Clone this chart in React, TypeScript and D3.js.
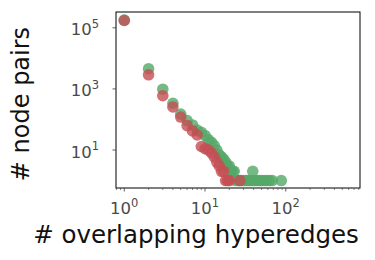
import React from "react";
import * as d3 from "d3";

const greenX = [1, 2, 3, 4, 5, 6, 7, 8, 9, 10, 11, 12, 13, 14, 15, 16, 17, 18, 19, 20, 21, 22, 23, 24, 26, 28, 30, 32, 34, 36, 38, 39, 41, 44, 47, 50, 54, 58, 63, 68, 88];
const greenY = [180000, 4600, 980, 340, 150, 92, 66, 45, 38, 30, 22, 18, 14, 10, 7, 6, 5, 4, 3, 3, 2, 2, 2, 1, 1, 1, 1, 1, 1, 1, 1, 2, 1, 1, 1, 1, 1, 1, 1, 1, 1];
const redX = [1, 2, 3, 4, 5, 6, 7, 8, 9, 10, 11, 12, 13, 14, 15, 16, 17, 18, 19, 20, 27];
const redY = [174000, 2900, 600, 257, 120, 63, 42, 31, 13, 11, 10, 8, 6, 4, 3, 2, 2, 1, 1, 1, 1];

const xMajor = [1, 10, 100];
const yMajor = [100000, 1000, 10];
const xLabel = "# overlapping hyperedges";
const yLabel = "# node pairs";

const W = 375, H = 260;
const L = 116, R = 360, T = 12, B = 188;

export default function App() {
  const x = d3.scaleLog().domain([0.79, 830]).range([L, R]);
  const y = d3.scaleLog().domain([0.57, 330000]).range([B, T]);
  const minor: number[] = [];
  for (let e = -1; e <= 2; e++) {
    for (let m = 2; m <= 9; m++) {
      const v = m * Math.pow(10, e);
      if (v >= 0.79 && v <= 830) minor.push(v);
    }
  }
  const font = "DejaVu Sans, sans-serif";
  const tickCol = "#4a4a4a";
  return (
    <svg width={W} height={H} style={{ position: "absolute", left: 0, top: 0 }} fontFamily={font}>
      <rect x={0} y={0} width={W} height={H} fill="#fff" />
      {greenX.map((v, i) => (
        <circle key={"g" + i} cx={x(v)} cy={y(greenY[i])} r={5.8} fill="#55a868" fillOpacity={0.8} />
      ))}
      {redX.map((v, i) => (
        <circle key={"r" + i} cx={x(v)} cy={y(redY[i])} r={5.8} fill="#c44e52" fillOpacity={0.8} />
      ))}
      <rect x={L} y={T} width={R - L} height={B - T} fill="none" stroke="#000" strokeWidth={1} />
      {xMajor.map((v) => (
        <g key={"xm" + v}>
          <line x1={x(v)} x2={x(v)} y1={B} y2={B + 3.5} stroke={tickCol} strokeWidth={0.9} />
          <text x={x(v)} y={214} textAnchor="middle" fontSize={16.5} fill={tickCol}>
            10
            <tspan dy={-7.5} fontSize={11.5}>{Math.round(Math.log10(v))}</tspan>
          </text>
        </g>
      ))}
      {minor.map((v) => (
        <line key={"xn" + v} x1={x(v)} x2={x(v)} y1={B} y2={B + 2} stroke={tickCol} strokeWidth={0.7} />
      ))}
      {yMajor.map((v) => (
        <g key={"ym" + v}>
          <line x1={L - 3.5} x2={L} y1={y(v)} y2={y(v)} stroke={tickCol} strokeWidth={0.9} />
          <text x={99} y={y(v) + 7.5} textAnchor="end" fontSize={16.5} fill={tickCol}>
            10
            <tspan dy={-7.5} fontSize={11.5}>{Math.round(Math.log10(v))}</tspan>
          </text>
        </g>
      ))}
      <text x={196} y={243} textAnchor="middle" fontSize={24.5} fill="#111">{xLabel}</text>
      <text transform={`translate(29,104) rotate(-90)`} textAnchor="middle" fontSize={24} fill="#111">{yLabel}</text>
    </svg>
  );
}
